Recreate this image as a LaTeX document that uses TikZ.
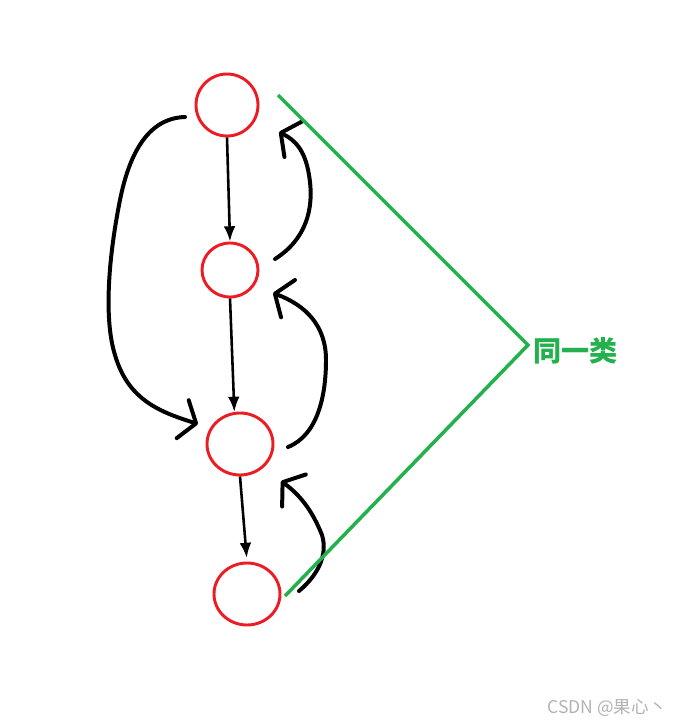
\documentclass[tikz,border=0pt]{standalone}
\usepackage{fontspec}
\usepackage{xcolor}
\usetikzlibrary{shapes.geometric}
\usetikzlibrary{calc}
\usetikzlibrary{arrows.meta}
\newfontfamily\cjk{Noto Sans CJK SC}
\definecolor{paintred}{HTML}{ED1C24}
\definecolor{paintgreen}{HTML}{22B14C}
\tikzset{
	vertex/.style={draw=paintred, line width=2.5pt, ellipse, inner sep=0pt},
	flow/.style={line width=2.2pt, -{Latex[length=13pt,width=10pt]}},
	backarc/.style={line width=3.4pt, line cap=round, -{Straight Barb[round,length=12pt,width=34pt]}},
	grouping/.style={color=paintgreen, line width=3pt}
}

\begin{document}
\begin{tikzpicture}[x=0.03cm,y=-0.03cm]
		\useasboundingbox (0,0) rectangle (685,726);
		\node[vertex, minimum width=1.86cm, minimum height=1.86cm] (A) at (227,105) {};
		\node[vertex, minimum width=1.68cm, minimum height=1.62cm] (B) at (230,270) {};
		\node[vertex, minimum width=1.98cm, minimum height=1.86cm] (C) at (240,444) {};
		\node[vertex, minimum width=1.98cm, minimum height=1.86cm] (D) at (247,594) {};
		\coordinate (Aleft) at (185,117);
		\coordinate (Cleft) at (198,424);
		\coordinate (Bright) at (275,259);
		\coordinate (Aright) at (279,132);
		\coordinate (Cright) at (288,447);
		\coordinate (Bback) at (273,293);
		\coordinate (Dright) at (299,591);
		\coordinate (Cback) at (281,481);
		\coordinate (Aedge) at (278,95);
		\coordinate (Dedge) at (285,596);
		\coordinate (apex) at (528,345);
		\draw [flow] (A.south) -- (B.north);
		\draw [flow] (B.south) -- (C.100);
		\draw [flow, shorten >=3pt] (C.south) -- (D.north);
		\draw [backarc] (Aleft) .. controls (150,118) and (130,150) .. (120,200) .. controls (108,260) and (104,320) .. (115,355) .. controls (128,400) and (160,412) .. (Cleft);
		\draw [backarc] (Bright) .. controls (305,240) and (315,210) .. (309,175) .. controls (305,150) and (295,140) .. (Aright);
		\draw [backarc] (Cright) .. controls (318,435) and (326,395) .. (326,360) .. controls (326,325) and (305,305) .. (Bback);
		\draw [backarc] (Dright) .. controls (318,575) and (328,555) .. (322,535) .. controls (312,510) and (300,495) .. (Cback);
		\draw [grouping] (Aedge) -- (apex) -- (Dedge);
		\node [anchor=west, inner sep=0pt, text=paintgreen, font=\cjk\bfseries\fontsize{24}{24}\selectfont] (same) at (533,351) {同一类};
		\node [text=gray!60, font=\cjk\fontsize{15}{15}\selectfont] (mark) at (607,708) {CSDN @果心丶};
	\end{tikzpicture}
\end{document}
